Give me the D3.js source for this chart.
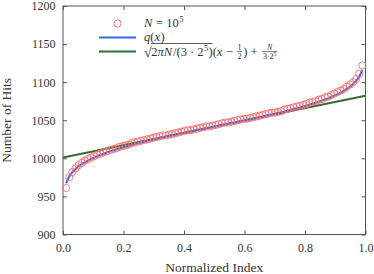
<!DOCTYPE html>
<html>
<head>
<meta charset="utf-8">
<script src="https://cdn.jsdelivr.net/npm/d3@7"></script>
<style>
  body { margin: 0; background: #fff; }
  svg { display: block; }
  svg text { font-family: 'Liberation Serif', 'DejaVu Serif', serif !important; fill: #333; white-space: pre; }
</style>
</head>
<body>
<svg width="374" height="274"></svg>
<script>
// observed hit counts, sorted (N = 10^5, 96 bins)
var hits = [961, 975, 982, 987, 991, 994, 997, 999, 1001, 1003,
    1005, 1006, 1008, 1009, 1011, 1012, 1013, 1015, 1016, 1017,
    1018, 1020, 1021, 1022, 1023, 1024, 1025, 1026, 1027, 1028,
    1029, 1030, 1030, 1031, 1032, 1033, 1034, 1035, 1036, 1037,
    1037, 1038, 1039, 1040, 1041, 1042, 1042, 1043, 1044, 1045,
    1046, 1047, 1047, 1048, 1049, 1050, 1051, 1052, 1052, 1053,
    1054, 1055, 1056, 1057, 1058, 1059, 1060, 1060, 1061, 1062,
    1064, 1065, 1066, 1067, 1068, 1069, 1070, 1071, 1073, 1074,
    1075, 1077, 1078, 1080, 1081, 1083, 1085, 1087, 1089, 1091,
    1094, 1097, 1100, 1104, 1111, 1122];

// q(x) curve read at the same positions
var qCurve = [967.4, 976.2, 981.8, 986.0, 989.4, 992.3, 994.8, 997.1, 999.2, 1001.1,
    1002.9, 1004.6, 1006.1, 1007.6, 1009.1, 1010.4, 1011.7, 1013.0, 1014.2, 1015.4,
    1016.5, 1017.7, 1018.7, 1019.8, 1020.8, 1021.8, 1022.8, 1023.8, 1024.8, 1025.7,
    1026.6, 1027.6, 1028.5, 1029.4, 1030.3, 1031.1, 1032.0, 1032.9, 1033.7, 1034.6,
    1035.4, 1036.3, 1037.1, 1037.9, 1038.8, 1039.6, 1040.4, 1041.3, 1042.1, 1043.0,
    1043.8, 1044.6, 1045.5, 1046.3, 1047.1, 1048.0, 1048.8, 1049.7, 1050.5, 1051.4,
    1052.3, 1053.1, 1054.0, 1054.9, 1055.8, 1056.8, 1057.7, 1058.6, 1059.6, 1060.6,
    1061.5, 1062.6, 1063.6, 1064.7, 1065.7, 1066.9, 1068.0, 1069.2, 1070.4, 1071.7,
    1073.0, 1074.3, 1075.8, 1077.3, 1078.8, 1080.5, 1082.3, 1084.2, 1086.3, 1088.6,
    1091.1, 1094.0, 1097.4, 1101.6, 1107.2, 1116.0];

// linear approximation endpoints
var linX = [0, 1];
var linY = [1001.2, 1082.1];

var xTicks = [0, 0.2, 0.4, 0.6, 0.8, 1.0];
var yTicks = [900, 950, 1000, 1050, 1100, 1150, 1200];

var svg = d3.select('svg');
var width = +svg.attr('width');
var height = +svg.attr('height');
var margin = {top: 6, right: 8.5, bottom: 39.5, left: 63};
var w = width - margin.left - margin.right;
var h = height - margin.top - margin.bottom;
var serif = "'Liberation Serif', 'DejaVu Serif', serif";

var g = svg.append('g')
    .attr('transform', 'translate(' + margin.left + ',' + margin.top + ')');

var x = d3.scaleLinear().domain([0, 1]).range([0, w]);
var y = d3.scaleLinear().domain([900, 1200]).range([h, 0]);

// plotting position of the i-th sorted bin
var pos = function (i, n) { return (i + 1) / (n + 1); };

var axisColor = '#555';

function styleAxis(sel) {
    sel.attr('font-family', serif).attr('font-size', 12);
    sel.select('.domain').remove();
    sel.selectAll('.tick line').attr('stroke', axisColor);
    sel.selectAll('.tick text').attr('fill', '#333');
}

g.append('g')
    .attr('transform', 'translate(0,' + h + ')')
    .call(d3.axisBottom(x).tickValues(xTicks).tickFormat(d3.format('.1f')).tickSize(-4).tickPadding(8.5))
    .call(styleAxis);
g.append('g')
    .call(d3.axisTop(x).tickValues(xTicks).tickFormat('').tickSize(-4))
    .call(styleAxis);
g.append('g')
    .call(d3.axisLeft(y).tickValues(yTicks).tickFormat(d3.format('d')).tickSize(-4).tickPadding(7.5))
    .call(styleAxis);
g.append('g')
    .attr('transform', 'translate(' + w + ',0)')
    .call(d3.axisRight(y).tickValues(yTicks).tickFormat('').tickSize(-4))
    .call(styleAxis);

g.append('rect')
    .attr('width', w)
    .attr('height', h)
    .attr('fill', 'none')
    .attr('stroke', axisColor)
    .attr('stroke-width', 1);

// linear approximation
g.append('path')
    .datum(d3.zip(linX, linY))
    .attr('fill', 'none')
    .attr('stroke', '#2f7030')
    .attr('stroke-width', 2)
    .attr('d', d3.line().x(function (d) { return x(d[0]); }).y(function (d) { return y(d[1]); }));

// q(x)
g.append('path')
    .datum(qCurve)
    .attr('fill', 'none')
    .attr('stroke', '#3568e8')
    .attr('stroke-width', 2)
    .attr('d', d3.line()
        .x(function (d, i) { return x(pos(i, qCurve.length)); })
        .y(function (d) { return y(d); }));

// observed
g.append('g').selectAll('circle')
    .data(hits)
    .join('circle')
    .attr('cx', function (d, i) { return x(pos(i, hits.length)); })
    .attr('cy', function (d) { return y(d); })
    .attr('r', 3.6)
    .attr('fill', 'none')
    .attr('stroke', '#ff6b6b')
    .attr('stroke-width', 0.9);

// axis titles
svg.append('text')
    .attr('x', margin.left + w / 2)
    .attr('y', 272)
    .attr('text-anchor', 'middle')
    .attr('font-family', serif)
    .attr('font-size', 13.5)
    .text('Normalized Index');
svg.append('text')
    .attr('transform', 'translate(11,' + (margin.top + h / 2) + ') rotate(-90)')
    .attr('text-anchor', 'middle')
    .attr('font-family', serif)
    .attr('font-size', 13.5)
    .text('Number of Hits');

// legend
var leg = svg.append('g').attr('font-family', serif);
var lx0 = 99, lx1 = 136, tx = 144;

leg.append('circle')
    .attr('cx', (lx0 + lx1) / 2).attr('cy', 23.5).attr('r', 3.6)
    .attr('fill', 'none').attr('stroke', '#ff6b6b').attr('stroke-width', 0.9);
leg.append('line')
    .attr('x1', lx0).attr('x2', lx1).attr('y1', 37.5).attr('y2', 37.5)
    .attr('stroke', '#3568e8').attr('stroke-width', 2);
leg.append('line')
    .attr('x1', lx0).attr('x2', lx1).attr('y1', 51.5).attr('y2', 51.5)
    .attr('stroke', '#2f7030').attr('stroke-width', 2);

var fs = 12.5;

// writes one run of text at (cx, base) and returns its width
function piece(cx, base, str, italic, size) {
    var t = leg.append('text')
        .attr('x', cx).attr('y', base)
        .attr('font-size', size || fs)
        .attr('font-style', italic ? 'italic' : 'normal')
        .text(str);
    return t.node().getComputedTextLength();
}

// N = 10^5
var cx = tx, b1 = 27;
cx += piece(cx, b1, 'N', true) + 0.5;
cx += piece(cx, b1, ' = 10', false);
piece(cx + 0.5, b1 - 5, '5', false, 8.5);

// q(x)
cx = tx;
var b2 = 41;
cx += piece(cx, b2, 'q', true);
cx += piece(cx, b2, '(', false);
cx += piece(cx, b2, 'x', true) + 0.5;
piece(cx, b2, ')', false);

// sqrt(2 pi N/(3 2^5)) (x - 1/2) + N/(3 2^5)
cx = tx;
var b3 = 55.5;
cx += piece(cx, b3 + 1, '\u221A', false, 14) - 0.5;
var rs = cx;
cx += piece(cx, b3, '2', false);
cx += piece(cx, b3, '\u03C0', true);
cx += piece(cx, b3, 'N', true) + 1;
cx += piece(cx, b3, '/(3 \u00B7 2', false);
cx += piece(cx + 0.3, b3 - 5, '5', false, 8.5) + 0.6;
cx += piece(cx, b3, ')', false);
leg.append('line')
    .attr('x1', rs).attr('x2', cx).attr('y1', b3 - 12).attr('y2', b3 - 12)
    .attr('stroke', '#333').attr('stroke-width', 0.8);
cx += piece(cx, b3, '(', false);
cx += piece(cx, b3, 'x', true) + 0.5;
cx += piece(cx, b3, ' \u2212 ', false);

function frac(cx, num, italicNum, parts) {
    var fsz = 8;
    var tmp = leg.append('text').attr('font-size', fsz).attr('font-style', italicNum ? 'italic' : 'normal').text(num);
    var nw = tmp.node().getComputedTextLength();
    tmp.remove();
    var dw = 0;
    parts.forEach(function (p) {
        var t2 = leg.append('text').attr('font-size', p[1] ? 6 : fsz).text(p[0]);
        dw += t2.node().getComputedTextLength();
        t2.remove();
    });
    var fw = Math.max(nw, dw) + 1.5;
    piece(cx + (fw - nw) / 2, b3 - 6, num, italicNum, fsz);
    var dx = cx + (fw - dw) / 2;
    parts.forEach(function (p) {
        dx += piece(dx, b3 + 3.5 - (p[1] ? 3 : 0), p[0], false, p[1] ? 6 : fsz);
    });
    leg.append('line')
        .attr('x1', cx).attr('x2', cx + fw).attr('y1', b3 - 4).attr('y2', b3 - 4)
        .attr('stroke', '#333').attr('stroke-width', 0.6);
    return fw;
}

cx += frac(cx + 0.5, '1', false, [['2', 0]]) + 1.5;
cx += piece(cx, b3, ')', false);
cx += piece(cx, b3, ' + ', false) + 1;
frac(cx + 0.5, 'N', true, [['3\u00B72', 0], ['5', 1]]);
</script>
</body>
</html>
